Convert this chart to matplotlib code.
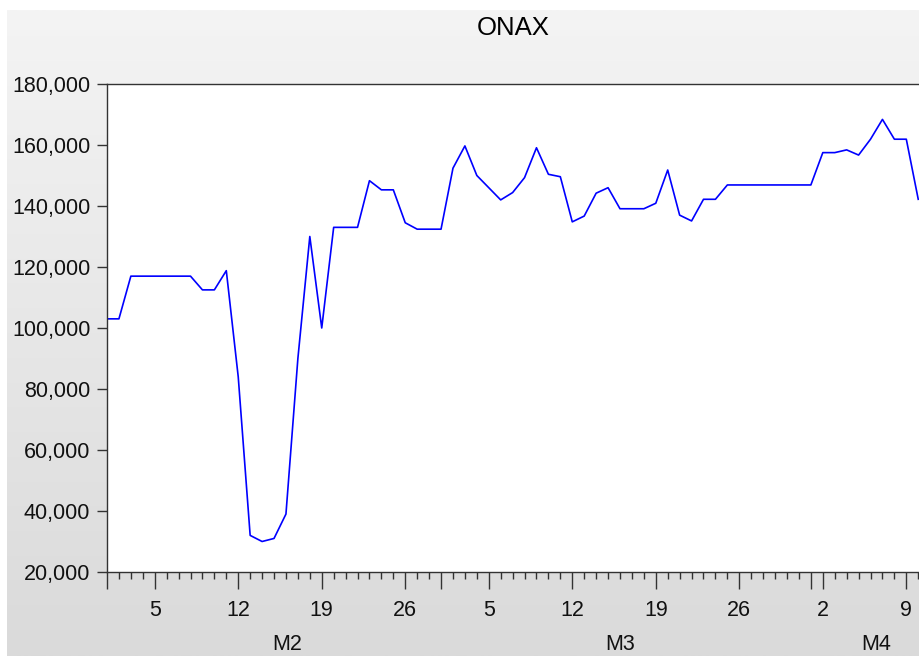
import numpy as np
import matplotlib
matplotlib.use("Agg")
import matplotlib.pyplot as plt
from matplotlib.ticker import FixedLocator, FuncFormatter

plt.rcParams['font.family'] = ['Liberation Sans', 'DejaVu Sans']

# ==============================
# DATA: daily ONAX values, Feb 1 .. Apr 10
# ==============================
onax = [103000, 103000, 117000, 117000, 117000, 117000, 117000, 117000,
         112500, 112500, 118800, 84000, 32000, 30000, 31000, 39000,
         90000, 130000, 100000, 133000, 133000, 133000, 148300, 145300,
         145300, 134500, 132400, 132400, 132400, 152400, 159700, 150000,
         146000, 142000, 144400, 149300, 159100, 150400, 149600, 134800,
         136700, 144200, 146000, 139100, 139100, 139100, 140900, 151800,
         137000, 135100, 142200, 142200, 146900, 146900, 146900, 146900,
         146900, 146900, 146900, 146900, 157500, 157500, 158400, 156700,
         161900, 168400, 161900, 161900, 142200]

day_labels = ["5", "12", "19", "26", "5", "12", "19", "26", "2", "9"]
day_label_pos = [4, 11, 18, 25, 32, 39, 46, 53, 60, 67]
month_starts = [0, 28, 59]
month_names = ["M2", "M3", "M4"]
month_label_pos = [15.1, 43.0, 64.5]
y_ticks = [20000, 40000, 60000, 80000, 100000, 120000, 140000, 160000, 180000]

W, H = 920, 656
fig = plt.figure(figsize=(W / 100, H / 100), dpi=100)
fig.patch.set_facecolor("white")

# gray gradient frame background
bg = fig.add_axes([7 / W, 0, 1 - 7 / W, 1 - 10 / H])
grad = np.linspace(0, 1, 256).reshape(-1, 1)
bg.imshow(grad, aspect="auto", cmap=matplotlib.colors.LinearSegmentedColormap.from_list(
    "g", ["#f4f4f4", "#dadada"]), extent=[0, 1, 0, 1], origin="upper")
bg.axis("off")

# plot area
left, top, bottom = 107, 84, 572
ax = fig.add_axes([left / W, (H - bottom) / H, (W - left) / W, (bottom - top) / H])
ax.set_facecolor("white")

days = np.arange(len(onax))
ax.plot(days, onax, color="#0000ff", lw=1.2)

ax.set_xlim(0, (W - left) / 11.93)
ax.set_ylim(20000, 180000)

for s in ["left", "bottom", "top"]:
    ax.spines[s].set_color("#333333")
    ax.spines[s].set_linewidth(1.0)
ax.spines["right"].set_visible(False)

ax.yaxis.set_major_locator(FixedLocator(y_ticks))
ax.yaxis.set_major_formatter(FuncFormatter(lambda v, p: f"{int(v):,}"))
ax.tick_params(axis="y", direction="out", length=7, width=1, color="#333333",
               labelsize=15.5, pad=5, labelcolor="#111111")

major = sorted(set(day_label_pos + month_starts))
labels = []
for m in major:
    labels.append(day_labels[day_label_pos.index(m)] if m in day_label_pos else "")
ax.xaxis.set_major_locator(FixedLocator(major))
ax.set_xticklabels(labels)
ax.xaxis.set_minor_locator(FixedLocator(list(days)))
ax.tick_params(axis="x", which="major", direction="out", length=12, width=1,
               color="#333333", labelsize=15.5, pad=8, labelcolor="#111111")
ax.tick_params(axis="x", which="minor", direction="out", length=5, width=1,
               color="#333333")

for pos, name in zip(month_label_pos, month_names):
    ax.text(pos, -(645 - bottom) / (bottom - top), name, transform=ax.get_xaxis_transform(),
            ha="center", va="center", fontsize=15.5, color="#111111")

fig.text(513 / W, 1 - 28 / H, "ONAX", ha="center", va="center", fontsize=18.5, color="#000000")

fig.savefig("out.png", dpi=100)
